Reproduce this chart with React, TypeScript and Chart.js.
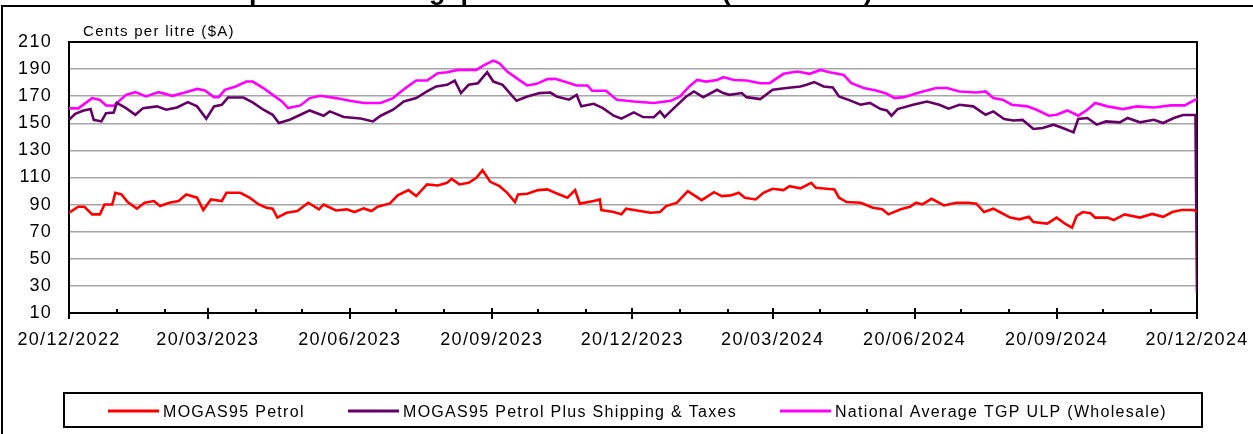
import React, { useEffect, useRef } from 'react';
import { Chart, registerables } from 'chart.js';

Chart.register(...registerables);

// ---- data (x = days since 20/12/2022) ----
const xTickDays = [0, 90, 182, 274, 365, 456, 548, 640, 731];
const xTickLabels = ['20/12/2022', '20/03/2023', '20/06/2023', '20/09/2023', '20/12/2023', '20/03/2024', '20/06/2024', '20/09/2024', '20/12/2024'];
const minorTickDays = [31, 62, 121, 151, 212, 243, 304, 335, 396, 427, 487, 517, 578, 609, 670, 701];

const seriesNames = ['MOGAS95 Petrol', 'MOGAS95 Petrol Plus Shipping & Taxes', 'National Average TGP ULP (Wholesale)'];
const seriesColors = ['#FF0000', '#660066', '#FF00FF'];

const petrolDays = [0, 6, 10, 15, 20, 23, 28, 30, 34, 38, 44, 49, 55, 59, 65, 71, 76, 83, 87, 92, 99, 102, 111, 117, 123, 128, 132, 135, 141, 148, 155, 162, 165, 173, 180, 185, 191, 196, 200, 208, 213, 220, 225, 232, 239, 245, 248, 253, 259, 264, 268, 273, 279, 284, 289, 291, 297, 304, 310, 315, 323, 328, 331, 340, 344, 345, 353, 358, 361, 370, 377, 383, 387, 394, 401, 410, 418, 423, 429, 434, 438, 445, 450, 456, 463, 467, 474, 481, 484, 491, 496, 499, 504, 513, 521, 527, 531, 539, 545, 549, 553, 559, 567, 575, 583, 588, 593, 599, 604, 610, 616, 622, 625, 634, 640, 646, 650, 653, 657, 662, 665, 673, 677, 684, 694, 702, 709, 715, 721, 729, 731];
const petrolCents = [84, 88.4, 88.4, 82.8, 82.8, 90.1, 90.1, 98.7, 97.5, 91.9, 87, 91.4, 92.6, 88.9, 91.4, 92.6, 97.5, 95.1, 86, 93.8, 92.6, 98.7, 98.7, 95.1, 90.1, 87.7, 87, 80.4, 84, 85.3, 91.4, 86.5, 90.1, 85.7, 86.5, 84.5, 87.2, 85.3, 88.4, 90.9, 96.8, 100.7, 96.3, 104.9, 104.1, 106.1, 109, 104.9, 106.1, 109.8, 115.4, 106.8, 103.6, 98.7, 91.9, 97.5, 98, 100.7, 101.2, 98.7, 95.1, 100.7, 90.7, 92.6, 93.8, 86, 84.5, 82.8, 87, 85.3, 84, 84.5, 88.9, 91.4, 99.9, 93.3, 99.2, 96.3, 96.8, 98.7, 95.1, 93.8, 98.7, 101.7, 100.7, 103.6, 102, 106.1, 102.4, 101.7, 101.2, 95.1, 91.9, 91.4, 87.7, 86.5, 82.8, 86.5, 88.4, 91.4, 90.1, 94.3, 89.4, 91.4, 91.4, 90.7, 84.5, 87, 84, 80.4, 79.1, 81, 77.1, 76, 80.4, 75.5, 73, 81.6, 84.5, 83.6, 80.4, 80.4, 78.6, 82.8, 80.4, 83.1, 81, 84.5, 86, 86, 84.5];

const shippingDays = [0, 4, 9, 14, 16, 21, 24, 29, 31, 37, 43, 48, 57, 63, 70, 77, 83, 89, 94, 99, 103, 113, 119, 126, 132, 136, 143, 150, 156, 165, 169, 178, 189, 197, 202, 210, 217, 225, 232, 238, 245, 250, 254, 259, 265, 271, 275, 281, 290, 297, 305, 312, 316, 324, 329, 332, 340, 346, 353, 358, 366, 372, 379, 383, 386, 392, 400, 405, 411, 420, 424, 428, 436, 439, 448, 456, 465, 474, 478, 483, 489, 495, 499, 506, 513, 519, 526, 530, 533, 537, 547, 556, 564, 570, 577, 586, 594, 599, 606, 612, 618, 625, 631, 638, 644, 651, 654, 660, 666, 672, 681, 686, 694, 703, 709, 716, 722, 730, 731];
const shippingCents = [152.6, 157, 159.2, 160.5, 152.6, 151.4, 157.5, 158, 165, 161.2, 156.3, 161.2, 162.5, 160, 161.7, 165.6, 162.5, 153.4, 162.5, 163.7, 169, 169, 165.4, 160, 156.3, 150.2, 152.6, 156.3, 159.5, 155.6, 158.8, 154.6, 153.6, 151.4, 155.6, 160, 166.1, 168.6, 173.5, 177.2, 178.4, 181.5, 172.3, 178.4, 179.6, 187.7, 180.8, 178.4, 166.6, 169.8, 172.3, 172.7, 169.8, 167.4, 171, 162.5, 164.4, 161.2, 155.6, 153.4, 158, 154.6, 154.5, 158.8, 154.6, 161.2, 169.8, 173.5, 169.3, 174.7, 172.3, 171, 172.3, 169.3, 167.9, 174.7, 176, 177.2, 178.4, 180.4, 177.2, 176.4, 169.8, 166.9, 163.7, 165, 160.5, 159.5, 155.6, 160.5, 163.7, 166.1, 163.7, 160.8, 163.7, 162.5, 156.3, 158.8, 153.2, 152.1, 152.5, 145.8, 146.5, 149, 146.5, 143.3, 153.2, 153.9, 149, 151.4, 150.7, 153.9, 150.7, 152.6, 150.2, 153.9, 156.1, 156.1, 25];

const tgpDays = [0, 6, 15, 20, 24, 29, 37, 43, 50, 58, 67, 74, 83, 88, 94, 97, 101, 108, 115, 119, 126, 132, 138, 142, 150, 156, 163, 173, 182, 191, 202, 210, 218, 225, 232, 239, 245, 252, 264, 269, 275, 279, 284, 290, 297, 303, 310, 315, 323, 329, 336, 339, 348, 355, 366, 379, 390, 396, 402, 407, 413, 420, 424, 431, 439, 448, 454, 463, 472, 480, 487, 493, 502, 507, 515, 523, 530, 535, 541, 551, 562, 569, 577, 588, 594, 599, 605, 611, 621, 627, 635, 640, 647, 654, 660, 665, 673, 683, 692, 703, 714, 723, 730, 731];
const tgpCents = [161, 161, 168.6, 167.3, 163.2, 163, 171, 173, 169.8, 173, 170.3, 172.3, 175.4, 174.2, 169.3, 169.3, 174.7, 177.2, 180.8, 180.8, 176, 171, 166.1, 161.2, 163.2, 168.6, 170.3, 168.6, 166.6, 165, 165, 168.6, 176, 181.6, 181.6, 187, 187.7, 189.4, 189.4, 193, 196.3, 194.3, 188.2, 183.3, 177.9, 179.1, 182.6, 182.8, 180.1, 177.9, 177.9, 174, 174, 167.4, 166.1, 165, 166.6, 169.8, 177.2, 182, 180.8, 182, 184, 182, 181.6, 179.6, 179.6, 186.5, 188.2, 186.5, 189.4, 187.7, 185.7, 179.6, 176, 174.2, 171.8, 168.6, 169.3, 172.7, 176, 176, 173.5, 172.7, 173.5, 168.6, 167.4, 163.7, 162.5, 160, 155.6, 156.3, 159.5, 155.6, 160, 165, 162.5, 160.5, 162.5, 161.7, 163.2, 163.2, 167.4, 168];

const titleText = 'Comparison of Singapore and Australian (Wholesale) Petrol Prices';
const yAxisTitle = 'Cents per litre ($A)';

const FONT = "'Liberation Sans', Arial, sans-serif";

const toPoints = (days: number[], vals: number[]) => days.map((d, i) => ({ x: d, y: vals[i] }));

const decorPlugin = {
  id: 'decor',
  beforeUpdate(chart: any) {
    chart.ctx.letterSpacing = '1.3px';
  },
  beforeDatasetsDraw(chart: any) {
    const { ctx, chartArea: a } = chart;
    ctx.save();
    ctx.strokeStyle = '#000';
    ctx.lineWidth = 2;
    ctx.beginPath();
    ctx.moveTo(a.left - 1, a.top);
    ctx.lineTo(a.right, a.top);
    ctx.lineTo(a.right, a.bottom + 1);
    ctx.stroke();
    ctx.restore();
  },
  afterDraw(chart: any) {
    const { ctx, chartArea: a } = chart;
    const xs = chart.scales.x;
    ctx.save();
    ctx.strokeStyle = '#000';
    ctx.fillStyle = '#000';
    ctx.lineWidth = 2;
    // x tick marks
    ctx.beginPath();
    xTickDays.forEach((d) => {
      const px = Math.round(xs.getPixelForValue(d));
      ctx.moveTo(px, a.bottom - 5);
      ctx.lineTo(px, a.bottom + 6);
    });
    minorTickDays.forEach((d) => {
      const px = Math.round(xs.getPixelForValue(d));
      ctx.moveTo(px, a.bottom - 4);
      ctx.lineTo(px, a.bottom);
    });
    ctx.stroke();

    // outer frame
    ctx.lineWidth = 2;
    ctx.strokeRect(2, 6, 1400, 600);

    // title (mostly cut off at top)
    ctx.letterSpacing = '0px';
    ctx.font = `bold 27px ${FONT}`;
    ctx.textAlign = 'left';
    ctx.textBaseline = 'alphabetic';
    ctx.fillText(titleText, 189, -1);

    // y axis title
    ctx.letterSpacing = '1.3px';
    ctx.font = `15px ${FONT}`;
    ctx.fillText(yAxisTitle, 83, 36);

    // legend
    const box = { l: 64, t: 393, r: 1202, b: 427 };
    ctx.lineWidth = 2;
    ctx.strokeRect(box.l, box.t, box.r - box.l, box.b - box.t);
    const starts = [108, 348, 780];
    ctx.font = `16px ${FONT}`;
    chart.data.datasets.forEach((ds: any, i: number) => {
      const x0 = starts[i];
      ctx.strokeStyle = ds.borderColor;
      ctx.lineWidth = 3;
      ctx.beginPath();
      ctx.moveTo(x0, 411);
      ctx.lineTo(x0 + 51, 411);
      ctx.stroke();
      ctx.fillStyle = '#000';
      ctx.fillText(ds.label, x0 + 55, 417);
    });
    ctx.restore();
  },
};

export default function App() {
  const ref = useRef<HTMLCanvasElement | null>(null);

  useEffect(() => {
    if (!ref.current) return;
    const datasets = [
      { label: seriesNames[0], data: toPoints(petrolDays, petrolCents), borderColor: seriesColors[0] },
      { label: seriesNames[1], data: toPoints(shippingDays, shippingCents), borderColor: seriesColors[1] },
      { label: seriesNames[2], data: toPoints(tgpDays, tgpCents), borderColor: seriesColors[2] },
    ].map((d) => ({
      ...d,
      backgroundColor: d.borderColor,
      borderWidth: 2.6,
      pointRadius: 0,
      tension: 0,
      fill: false,
    }));

    const chart = new Chart(ref.current, {
      type: 'line',
      data: { datasets },
      options: {
        animation: false,
        responsive: false,
        devicePixelRatio: 1,
        layout: { padding: { left: 0, right: 56, top: 42, bottom: 81 } },
        plugins: { legend: { display: false }, title: { display: false }, tooltip: { enabled: false } },
        scales: {
          x: {
            type: 'linear',
            min: 0,
            max: 731,
            afterBuildTicks: (scale: any) => {
              scale.ticks = xTickDays.map((v) => ({ value: v }));
            },
            afterFit: (scale: any) => {
              scale.height = 40;
              scale.paddingLeft = 0;
              scale.paddingRight = 0;
            },
            grid: { display: false, drawTicks: false },
            border: { display: true, color: '#000', width: 2 },
            ticks: {
              autoSkip: false,
              maxRotation: 0,
              minRotation: 0,
              padding: 16,
              color: '#000',
              font: { family: FONT, size: 18 },
              callback: (_v: any, i: number) => xTickLabels[i],
            },
          },
          y: {
            min: 10,
            max: 210,
            afterFit: (scale: any) => {
              scale.width = 69;
              scale.paddingTop = 0;
              scale.paddingBottom = 0;
            },
            grid: { color: '#A6A6A6', lineWidth: 1.5, drawTicks: false },
            border: { display: true, color: '#000', width: 2 },
            ticks: {
              stepSize: 20,
              padding: 17,
              color: '#000',
              font: { family: FONT, size: 18 },
            },
          },
        },
      },
      plugins: [decorPlugin],
    } as any);

    return () => chart.destroy();
  }, []);

  return (
    <div style={{ position: 'absolute', left: 0, top: 0, width: 1253, height: 434, overflow: 'hidden', background: '#fff' }}>
      <canvas ref={ref} width={1253} height={434} style={{ width: 1253, height: 434, display: 'block' }} />
    </div>
  );
}
